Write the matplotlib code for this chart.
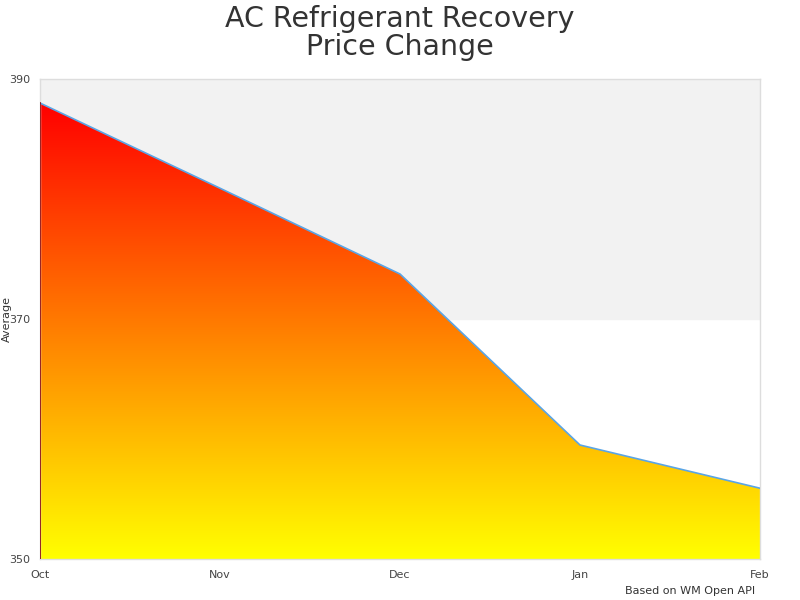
import numpy as np
import matplotlib
matplotlib.use('Agg')
import matplotlib.pyplot as plt
from matplotlib.colors import LinearSegmentedColormap
from matplotlib.patches import Polygon

# data
months = ['Oct', 'Nov', 'Dec', 'Jan', 'Feb']
average = [388.0, 380.9, 373.75, 359.5, 355.9]
y_ticks = [350, 370, 390]

x = np.arange(len(months))
y = np.array(average)

fig = plt.figure(figsize=(8, 6), dpi=100)
ax = fig.add_axes([0.05, 0.0683, 0.9, 0.8])

ymin, ymax = 350, 390
ax.set_xlim(0, len(months) - 1)
ax.set_ylim(ymin, ymax)

# alternating background band
ax.axhspan(370, 390, color='#f2f2f2', zorder=0)

# gradient fill under the line, red at top of data to yellow at bottom
cmap = LinearSegmentedColormap.from_list('ry', ['#ffff00', '#ff0000'])
grad = np.linspace(0, 1, 256).reshape(-1, 1)
im = ax.imshow(grad, cmap=cmap, aspect='auto', origin='lower',
               extent=[0, len(months) - 1, ymin, y.max()], zorder=1)
verts = list(zip(x, y)) + [(x[-1], ymin), (x[0], ymin)]
poly = Polygon(verts, closed=True, facecolor='none', edgecolor='none')
ax.add_patch(poly)
im.set_clip_path(poly)

ax.plot(x, y, color='#5aa5e6', lw=1.2, zorder=3)
ax.plot([0, 0], [ymin, y[0]], color='#8b0000', lw=1.2, zorder=3)

ax.set_xticks(x)
ax.set_xticklabels(months)
ax.set_yticks(y_ticks)
ax.tick_params(length=0, labelsize=8, colors='#444444', pad=8)
ax.tick_params(axis='y', pad=7)
ax.set_ylabel('Average', fontsize=8, color='#333333')
ax.yaxis.set_label_coords(-0.039, 0.5)

for s in ax.spines.values():
    s.set_color('#dddddd')
    s.set_linewidth(1)

fig.suptitle('AC Refrigerant Recovery\nPrice Change', fontsize=20.5,
             color='#333333', y=0.992, linespacing=1.0)
fig.text(0.944, 0.007, 'Based on WM Open API', ha='right', va='bottom',
         fontsize=8, color='#333333')

fig.savefig('out.png', dpi=100)
